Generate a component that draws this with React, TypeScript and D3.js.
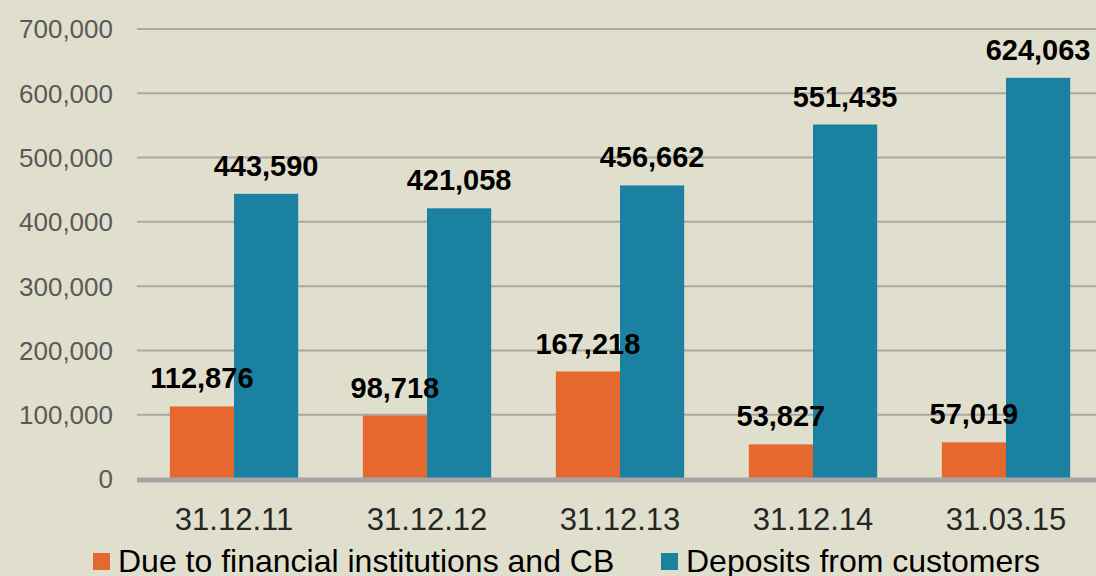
import React from "react";
import * as d3 from "d3";

const categories = ["31.12.11", "31.12.12", "31.12.13", "31.12.14", "31.03.15"];
const dueToFI = [112876, 98718, 167218, 53827, 57019];
const deposits = [443590, 421058, 456662, 551435, 624063];
const yTicks = [0, 100000, 200000, 300000, 400000, 500000, 600000, 700000];
const seriesNames = ["Due to financial institutions and CB", "Deposits from customers"];
const colors = ["#E5692E", "#1A82A0"];

export default function App() {
  const W = 1096, H = 576;
  const x = d3.scaleBand<string>().domain(categories).range([137.5, 1102.5]).paddingInner(0.335).paddingOuter(0.1675);
  const y = d3.scaleLinear().domain([0, 700000]).range([479, 29]);
  const fmt = d3.format(",");
  const bw = x.bandwidth() / 2;
  const series = [dueToFI, deposits];
  return (
    <svg width={W} height={H} style={{ position: "absolute", left: 0, top: 0, display: "block" }}
      fontFamily="'Liberation Sans', Arial, sans-serif">
      <rect x={0} y={0} width={W} height={H} fill="#E0DFCD" />
      {yTicks.map((t) => (
        <g key={t}>
          {t > 0 && <line x1={137} x2={W} y1={y(t)} y2={y(t)} stroke="#A8A8A4" strokeWidth={2} />}
          <text x={113} y={y(t)} dy="0.36em" textAnchor="end" fontSize={26} fill="#595959">{fmt(t)}</text>
        </g>
      ))}
      {series.map((vals, si) =>
        categories.map((c, i) => {
          const x0 = (x(c) as number) + si * bw;
          return (
            <rect key={si + "-" + c} x={x0} y={y(vals[i])} width={bw} height={y(0) - y(vals[i])} fill={colors[si]} />
          );
        })
      )}
      <line x1={137} x2={W} y1={480} y2={480} stroke="#A6A6A6" strokeWidth={5} />
      {series.map((vals, si) =>
        categories.map((c, i) => {
          const cx = (x(c) as number) + si * bw + bw / 2;
          return (
            <text key={"l" + si + "-" + c} x={cx} y={y(vals[i]) - 18} textAnchor="middle" fontSize={29} fontWeight="bold" fill="#000">
              {fmt(vals[i])}
            </text>
          );
        })
      )}
      {categories.map((c) => (
        <text key={"c" + c} x={(x(c) as number) + x.bandwidth() / 2} y={530} textAnchor="middle" fontSize={31} fill="#262626">{c}</text>
      ))}
      <rect x={93} y={553} width={17} height={17} fill={colors[0]} />
      <text x={118} y={572} fontSize={32} fill="#000">{seriesNames[0]}</text>
      <rect x={661} y={553} width={17} height={17} fill={colors[1]} />
      <text x={686} y={572} fontSize={32} fill="#000">{seriesNames[1]}</text>
    </svg>
  );
}
